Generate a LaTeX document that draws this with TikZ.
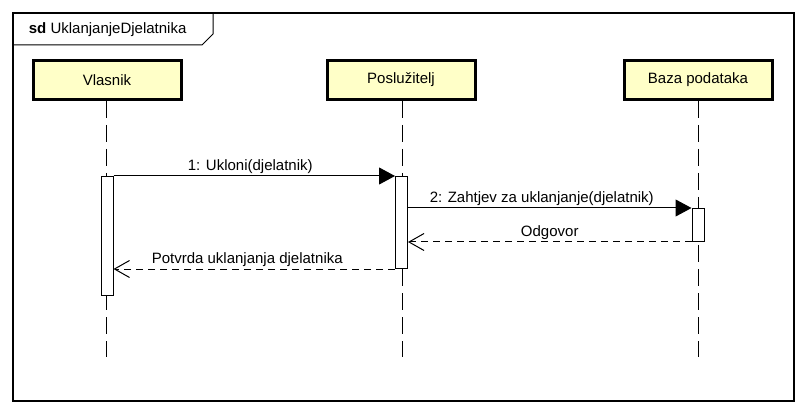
\documentclass[tikz,border=0pt]{standalone}
\usepackage{fontspec}
\setmainfont{Liberation Sans}
\definecolor{HeadYellow}{HTML}{FFFFC8}
\usetikzlibrary{arrows.meta,positioning,calc}

\begin{document}
\begin{tikzpicture}[x=1pt, y=-1pt, line width=1pt, font=\fontsize{15}{17}\selectfont,
  head/.style={draw, line width=3pt, fill=HeadYellow, minimum width=148pt, minimum height=39pt, inner sep=0pt},
  lifeline/.style={dash pattern=on 17pt off 7pt},
  act/.style={draw, fill=white, minimum width=12pt, inner sep=0pt, anchor=north},
  call/.style={-{Triangle[length=16pt, width=17pt]}},
  reply/.style={dash pattern=on 7pt off 5pt, -{Straight Barb[length=15pt, width=17pt, line width=1pt]}},
  msglabel/.style={midway, above, inner sep=2pt}]

 \useasboundingbox (0,0) rectangle (806,414);

 % frame
 \draw[line width=1.3pt] (13,13) rectangle (794,401);
 \draw (13,45) -- (202,45) -- (213,34) -- (213,13);
 \node (title) [anchor=west] at (25,30) {\textbf{sd} UklanjanjeDjelatnika};

 % lifelines
 \node (vlasnik) [head] at (107,80) {Vlasnik};
 \node (posluzitelj) [head] at (401,80) {Poslužitelj};
 \node (baza) [head] at (698,80) {Baza podataka};
 \coordinate (vEnd) at (106,357);
 \coordinate (pEnd) at (402,357);
 \coordinate (bEnd) at (698,357);
 \draw[lifeline] (vlasnik.south -| vEnd) -- (vEnd);
 \draw[lifeline] (posluzitelj.south -| pEnd) -- (pEnd);
 \draw[lifeline] (baza.south -| bEnd) -- (bEnd);

 % activations
 \node (actV) [act, minimum height=119pt] at (107,176) {};
 \node (actP) [act, minimum height=92pt] at (401.5,176) {};
 \node (actB) [act, minimum height=33pt] at (698,208) {};

 % messages
 \draw[call] (actV.north east) -- (actP.north west) node[msglabel, xshift=-4pt] {1: Ukloni(djelatnik)};
 \draw[call] (actP.east |- actB.north) -- (actB.north west) node[msglabel, xshift=-8pt] {2: Zahtjev za uklanjanje(djelatnik)};
 \draw[reply] (actB.south west) -- (actP.east |- actB.south) node[msglabel] {Odgovor};
 \draw[reply] (actP.south west) -- (actV.east |- actP.south) node[msglabel, xshift=-7pt] {Potvrda uklanjanja djelatnika};

\end{tikzpicture}
\end{document}
